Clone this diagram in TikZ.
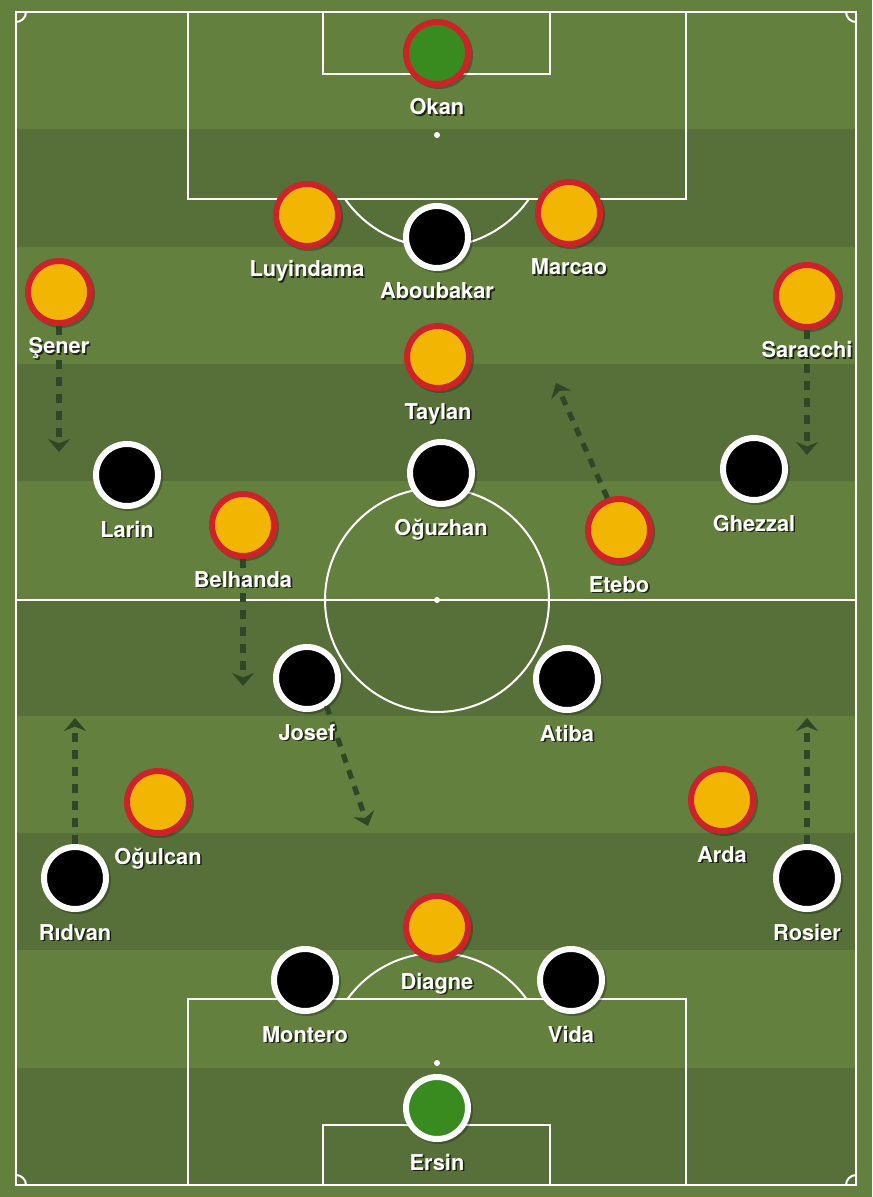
\documentclass[tikz,border=0pt]{standalone}
\usepackage{fontspec}
\setmainfont{TeX Gyre Heros}
\usepackage{tikz}
\usetikzlibrary{arrows.meta}

\definecolor{grass}{HTML}{63803F}
\definecolor{grassdark}{HTML}{577039}
\definecolor{shirtyellow}{HTML}{F1B502}
\definecolor{ringred}{HTML}{CD2228}
\definecolor{keepergreen}{HTML}{3A8B1F}
\definecolor{arrowc}{HTML}{2F4726}

\tikzset{
  pitchline/.style={draw=white, line width=1pt},
  player/.style={circle, line width=3pt, minimum size=31pt, inner sep=0pt},
  lbl/.style={anchor=base, text=white, font=\fontsize{10.9}{13}\selectfont\bfseries, inner sep=0pt},
  lblshadow/.style={lbl, text=black, opacity=.7},
  runarrow/.style={draw=arrowc, line width=2.6pt, dash pattern=on 4.5pt off 4pt,
    -{Stealth[length=6.5pt,width=11pt,inset=2.2pt]}}
}

\newcommand{\player}[5]{ \fill[black,opacity=.25] ( #2+2 , #3+2 ) circle (34); \node[player, fill=#4, draw=#5] (#1) at ( #2 , #3 ) {};}
\newcommand{\plabel}[2]{ \node[lblshadow] at ([xshift=0.8pt,yshift=-31.8pt]#1.center) {#2}; \node[lbl] at ([yshift=-31pt]#1.center) {#2};}

\begin{document}
\begin{tikzpicture}[x=0.5pt,y=-0.5pt]
        \useasboundingbox (0,0) rectangle (872,1197);
        \fill[grass] (0,0) rectangle (872,1197);

        % stripes
        \foreach \i in {1,3,...,9}
            \fill[grassdark] (16,{12+\i*117.3}) rectangle (856,{12+(\i+1)*117.3});

        % pitch lines
        \draw[pitchline] (16,12) rectangle (856,1185);
        \draw[pitchline] (16,600) -- (856,600);
        \draw[pitchline] (437,600) circle (112);
        \fill[white] (437,600) circle (3);

        % top box
        \draw[pitchline] (188,12) rectangle (686,199);
        \draw[pitchline] (323,12) rectangle (550,74);
        \fill[white] (437,135) circle (3);
        \begin{scope}
            \clip (16,199) rectangle (856,600);
            \draw[pitchline] (437,135) circle (112);
        \end{scope}

        % bottom box
        \draw[pitchline] (188,999) rectangle (686,1185);
        \draw[pitchline] (323,1125) rectangle (550,1185);
        \fill[white] (437,1063) circle (3);
        \begin{scope}
            \clip (16,600) rectangle (856,999);
            \draw[pitchline] (437,1063) circle (110);
        \end{scope}

        % corners
        \begin{scope}
            \clip (16,12) rectangle (856,1185);
            \foreach \cx/\cy in {16/12,856/12,16/1185,856/1185}
                \draw[pitchline] (\cx,\cy) circle (10);
        \end{scope}

        % yellow team
        \player{okan}{437}{53}{keepergreen}{ringred}
        \player{luyindama}{307}{215}{shirtyellow}{ringred}
        \player{marcao}{569}{213}{shirtyellow}{ringred}
        \player{sener}{59}{292}{shirtyellow}{ringred}
        \player{saracchi}{807}{296}{shirtyellow}{ringred}
        \player{taylan}{438}{357}{shirtyellow}{ringred}
        \player{belhanda}{243}{525}{shirtyellow}{ringred}
        \player{etebo}{619}{530}{shirtyellow}{ringred}
        \player{ogulcan}{158}{802}{shirtyellow}{ringred}
        \player{arda}{722}{800}{shirtyellow}{ringred}
        \player{diagne}{437}{927}{shirtyellow}{ringred}

        % black team
        \player{aboubakar}{437}{237}{black}{white}
        \player{larin}{127}{475}{black}{white}
        \player{oguzhan}{441}{473}{black}{white}
        \player{ghezzal}{754}{469}{black}{white}
        \player{josef}{307}{678}{black}{white}
        \player{atiba}{567}{679}{black}{white}
        \player{ridvan}{75}{878}{black}{white}
        \player{rosier}{807}{878}{black}{white}
        \player{montero}{305}{980}{black}{white}
        \player{vida}{571}{980}{black}{white}
        \player{ersin}{437}{1108}{keepergreen}{white}

        % runs
        \coordinate (sener-to) at (59,452);
        \coordinate (saracchi-to) at (807,455);
        \coordinate (etebo-to) at (556,383);
        \coordinate (belhanda-to) at (243,686);
        \coordinate (josef-to) at (368,826);
        \coordinate (ridvan-to) at (75,718);
        \coordinate (rosier-to) at (807,718);
        \draw[runarrow] (sener.south) -- (sener-to);
        \draw[runarrow] (saracchi.south) -- (saracchi-to);
        \draw[runarrow] (etebo.110) -- (etebo-to);
        \draw[runarrow] (belhanda.south) -- (belhanda-to);
        \draw[runarrow] (josef.-55) -- (josef-to);
        \draw[runarrow] (ridvan.north) -- (ridvan-to);
        \draw[runarrow] (rosier.north) -- (rosier-to);

        % names
        \plabel{okan}{Okan}
        \plabel{luyindama}{Luyindama}
        \plabel{marcao}{Marcao}
        \plabel{sener}{Şener}
        \plabel{saracchi}{Saracchi}
        \plabel{taylan}{Taylan}
        \plabel{belhanda}{Belhanda}
        \plabel{etebo}{Etebo}
        \plabel{ogulcan}{Oğulcan}
        \plabel{arda}{Arda}
        \plabel{diagne}{Diagne}
        \plabel{aboubakar}{Aboubakar}
        \plabel{larin}{Larin}
        \plabel{oguzhan}{Oğuzhan}
        \plabel{ghezzal}{Ghezzal}
        \plabel{josef}{Josef}
        \plabel{atiba}{Atiba}
        \plabel{ridvan}{Rıdvan}
        \plabel{rosier}{Rosier}
        \plabel{montero}{Montero}
        \plabel{vida}{Vida}
        \plabel{ersin}{Ersin}

    \end{tikzpicture}
\end{document}
